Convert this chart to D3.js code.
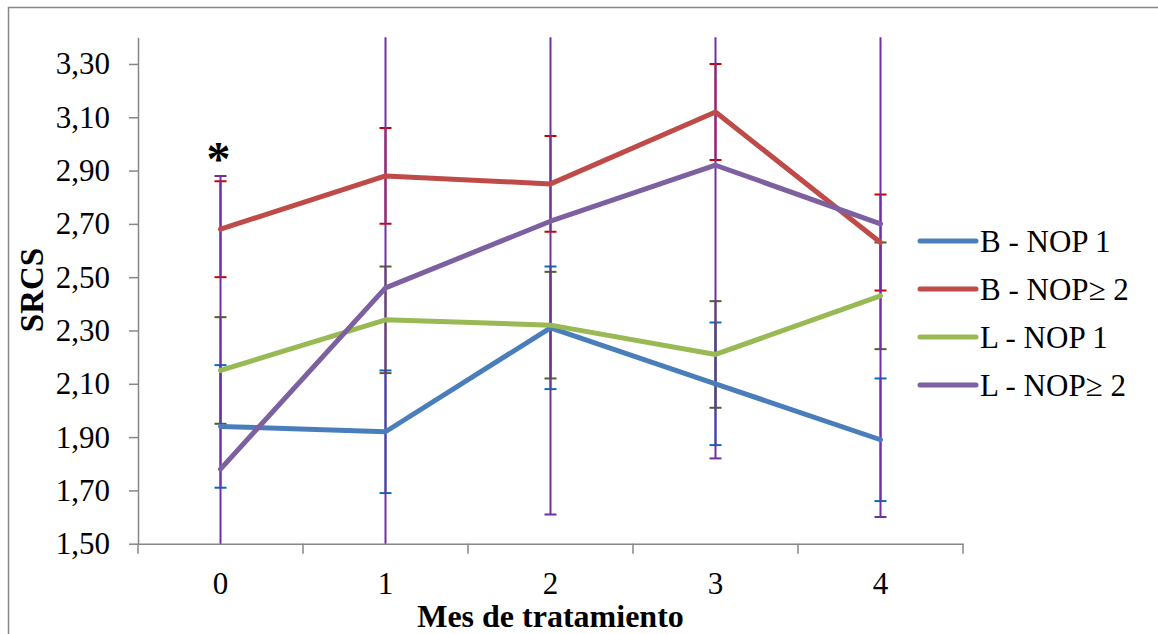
<!DOCTYPE html>
<html>
<head>
<meta charset="utf-8">
<script src="https://cdn.jsdelivr.net/npm/d3@7"></script>
<style>
  body { margin: 0; background: #fff; }
  text { font-family: "Liberation Serif", "Times New Roman", serif; fill: #000; }
</style>
</head>
<body>
<div id="vis"></div>
<script>
// chart values
const categories = ["0", "1", "2", "3", "4"];
const seriesNames = ["B - NOP 1", "B - NOP\u2265 2", "L - NOP 1", "L - NOP\u2265 2"];
const bNop1 = [1.94, 1.92, 2.31, 2.10, 1.89];
const bNop2 = [2.68, 2.88, 2.85, 3.12, 2.63];
const lNop1 = [2.15, 2.34, 2.32, 2.21, 2.43];
const lNop2 = [1.78, 2.46, 2.71, 2.92, 2.70];
const errBNop1 = [0.23, 0.23, 0.23, 0.23, 0.23];
const errBNop2 = [0.18, 0.18, 0.18, 0.18, 0.18];
const errLNop1 = [0.20, 0.20, 0.20, 0.20, 0.20];
const errLNop2 = [1.10, 1.10, 1.10, 1.10, 1.10];
const yTicks = [1.5, 1.7, 1.9, 2.1, 2.3, 2.5, 2.7, 2.9, 3.1, 3.3];
const markLabel = "*";   // significance mark over month 0

const FRAME_WIDTH = 1158;
const FRAME_HEIGHT = 634;
const PLOT = { left: 138, right: 963, top: 37.3, bottom: 543.7 };

const lineColors = ["#4A7EBB", "#BE4B48", "#98B954", "#7D60A0"];
const errColors = ["#0070C0", "#D00000", "#4F6228", "#7030A0"];

const series = seriesNames.map((name, i) => ({
  name: name,
  values: [bNop1, bNop2, lNop1, lNop2][i],
  errs: [errBNop1, errBNop2, errLNop1, errLNop2][i],
  color: lineColors[i],
  errColor: errColors[i]
}));

const FRAME = d3.select("#vis")
  .append("svg")
    .attr("width", FRAME_WIDTH)
    .attr("height", FRAME_HEIGHT);

// outer chart border (runs past the right/bottom edge like the original crop)
FRAME.append("rect")
  .attr("x", 8.5).attr("y", 7.5)
  .attr("width", 1170).attr("height", 650)
  .attr("fill", "none")
  .attr("stroke", "#868686")
  .attr("stroke-width", 1.5);

const x = d3.scaleBand().domain(categories).range([PLOT.left, PLOT.right]);
const y = d3.scaleLinear().domain([1.5, 3.4]).range([PLOT.bottom, PLOT.top]);
const cx = (c) => x(c) + x.bandwidth() / 2;

const comma = d3.formatLocale({ decimal: ",", thousands: ".", grouping: [3], currency: ["", ""] });

// clip for the error bars that run off the plot
FRAME.append("clipPath").attr("id", "plotclip")
  .append("rect")
    .attr("x", PLOT.left).attr("y", PLOT.top)
    .attr("width", PLOT.right - PLOT.left).attr("height", PLOT.bottom - PLOT.top);

// y axis
const yAxis = FRAME.append("g")
  .attr("transform", `translate(${PLOT.left},0)`)
  .call(d3.axisLeft(y).tickValues(yTicks).tickSize(9).tickSizeOuter(0).tickPadding(19)
          .tickFormat(comma.format(".2f")));
yAxis.selectAll("path, line").attr("stroke", "#868686").attr("stroke-width", 1.5);
yAxis.selectAll("text").attr("font-size", 31).attr("font-family", "Liberation Serif").attr("fill", "#000");

// x axis: domain line + boundary ticks, labels centred in each band
const xAxis = FRAME.append("g")
  .attr("transform", `translate(0,${PLOT.bottom})`)
  .call(d3.axisBottom(x).tickSize(0).tickSizeOuter(0).tickPadding(28));
xAxis.select("path").attr("stroke", "#868686").attr("stroke-width", 1.5);
xAxis.selectAll("text").attr("font-size", 31).attr("font-family", "Liberation Serif").attr("fill", "#000");

const bounds = categories.map((c) => x(c)).concat([x.range()[1]]);
xAxis.selectAll("line.bound")
  .data(bounds)
  .enter()
  .append("line")
    .attr("class", "bound")
    .attr("x1", (d) => d).attr("x2", (d) => d)
    .attr("y1", 0).attr("y2", 10)
    .attr("stroke", "#868686")
    .attr("stroke-width", 1.5);

// error bars
const errG = FRAME.append("g").attr("clip-path", "url(#plotclip)");
series.forEach((s) => {
  const pts = categories.map((c, i) => ({ c: c, v: s.values[i], e: s.errs[i] }));
  const g = errG.append("g");
  g.selectAll("line.stem")
    .data(pts).enter().append("line")
      .attr("x1", (d) => cx(d.c)).attr("x2", (d) => cx(d.c))
      .attr("y1", (d) => y(d.v + d.e)).attr("y2", (d) => y(d.v - d.e))
      .attr("stroke", s.errColor).attr("stroke-width", 2);
  ["top", "bot"].forEach((k) => {
    g.selectAll("line.cap" + k)
      .data(pts).enter().append("line")
        .attr("x1", (d) => cx(d.c) - 6).attr("x2", (d) => cx(d.c) + 6)
        .attr("y1", (d) => y(k === "top" ? d.v + d.e : d.v - d.e))
        .attr("y2", (d) => y(k === "top" ? d.v + d.e : d.v - d.e))
        .attr("stroke", s.errColor).attr("stroke-width", 2);
  });
});

// series lines
const line = d3.line()
  .x((d, i) => cx(categories[i]))
  .y((d) => y(d));

FRAME.selectAll("path.series")
  .data(series)
  .enter()
  .append("path")
    .attr("class", "series")
    .attr("d", (d) => line(d.values))
    .attr("fill", "none")
    .attr("stroke", (d) => d.color)
    .attr("stroke-width", 5)
    .attr("stroke-linejoin", "round")
    .attr("stroke-linecap", "round");

// asterisk over month 0
FRAME.append("text")
  .attr("x", cx(categories[0]) - 2)
  .attr("y", 175)
  .attr("text-anchor", "middle")
  .attr("font-size", 48)
  .attr("font-weight", "bold")
  .text(markLabel);

// axis titles
FRAME.append("text")
  .attr("x", (PLOT.left + PLOT.right) / 2)
  .attr("y", 627)
  .attr("text-anchor", "middle")
  .attr("font-size", 32)
  .attr("font-weight", "bold")
  .text("Mes de tratamiento");

FRAME.append("text")
  .attr("transform", "translate(43,290) rotate(-90)")
  .attr("text-anchor", "middle")
  .attr("font-size", 33)
  .attr("font-weight", "bold")
  .text("SRCS");

// legend
const legend = FRAME.append("g").attr("transform", "translate(920,241)");
const rows = legend.selectAll("g.row")
  .data(series)
  .enter()
  .append("g")
    .attr("class", "row")
    .attr("transform", (d, i) => `translate(0,${i * 48})`);
rows.append("line")
  .attr("x1", 0).attr("x2", 56)
  .attr("stroke", (d) => d.color)
  .attr("stroke-width", 5)
  .attr("stroke-linecap", "round");
rows.append("text")
  .attr("x", 60)
  .attr("y", 11)
  .attr("font-size", 31)
  .text((d) => d.name);
</script>
</body>
</html>
